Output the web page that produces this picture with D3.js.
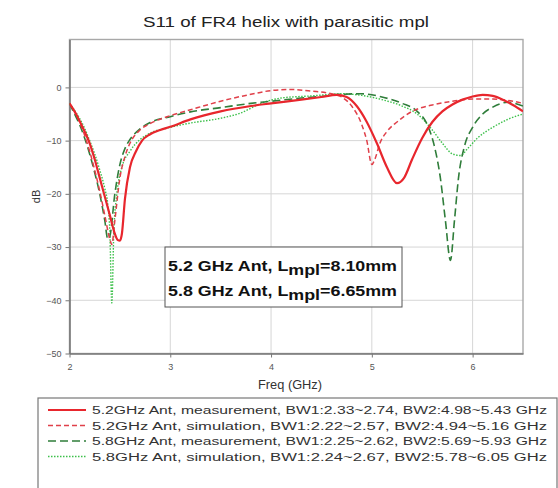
<!DOCTYPE html>
<html><head><meta charset="utf-8">
<script src="https://cdn.jsdelivr.net/npm/d3@7"></script>
<style>
html,body{margin:0;padding:0;background:#fff;}
svg{display:block;font-family:"Liberation Sans",Arial,sans-serif;}
</style></head>
<body><div id="chart"></div>
<script>
const title = "S11 of FR4 helix with parasitic mpl";
const xTicks = [2, 3, 4, 5, 6];
const yTicks = [0, -10, -20, -30, -40, -50];
const seriesNames = [
  "5.2GHz Ant, measurement, BW1:2.33~2.74, BW2:4.98~5.43 GHz",
  "5.2GHz Ant, simulation, BW1:2.22~2.57, BW2:4.94~5.16 GHz",
  "5.8GHz Ant, measurement, BW1:2.25~2.62, BW2:5.69~5.93 GHz",
  "5.8GHz Ant, simulation, BW1:2.24~2.67, BW2:5.78~6.05 GHz"
];
const m52 = [[2.00,-3],[2.05,-4.5],[2.10,-6.3],[2.15,-8.3],[2.20,-10.5],[2.25,-13.5],[2.30,-17],[2.35,-20.5],[2.40,-24],[2.45,-27.5],[2.48,-28.7],[2.50,-28.8],[2.52,-27.5],[2.55,-21],[2.60,-15],[2.66,-12],[2.72,-10],[2.80,-8.8],[2.90,-8],[3.00,-7.4],[3.20,-6],[3.50,-4.5],[3.80,-3.5],[4.00,-3],[4.30,-2.3],[4.50,-1.8],[4.65,-1.4],[4.75,-1.8],[4.85,-3.5],[4.95,-6.5],[5.05,-10.5],[5.15,-15],[5.25,-18],[5.32,-17],[5.40,-13.5],[5.50,-9.5],[5.60,-6.5],[5.70,-4.5],[5.80,-3.2],[5.90,-2.3],[6.00,-1.7],[6.10,-1.4],[6.20,-1.6],[6.30,-2.3],[6.40,-3.3],[6.50,-4.5]];
const s52 = [[2.00,-3],[2.05,-4.5],[2.10,-6.5],[2.15,-9],[2.20,-12],[2.25,-15.5],[2.30,-19.5],[2.35,-24],[2.40,-28.5],[2.42,-29.5],[2.45,-25],[2.50,-17],[2.55,-13],[2.60,-10.5],[2.70,-8],[2.80,-6.8],[3.00,-5.3],[3.20,-4.2],[3.50,-2.6],[3.80,-1.3],[4.00,-0.6],[4.20,-0.4],[4.40,-0.7],[4.60,-1.2],[4.70,-1.8],[4.80,-3.5],[4.90,-7],[4.95,-10],[5.00,-14.5],[5.03,-13.5],[5.08,-10.5],[5.15,-8.3],[5.25,-6.5],[5.40,-4.5],[5.60,-3.3],[5.80,-2.6],[6.00,-2.2],[6.20,-2.2],[6.40,-2.6],[6.50,-3]];
const m58 = [[2.00,-3],[2.05,-5],[2.10,-7],[2.15,-9.5],[2.20,-12.5],[2.25,-16],[2.30,-20],[2.35,-25],[2.38,-28.5],[2.40,-28],[2.45,-20],[2.50,-14.5],[2.55,-11.5],[2.60,-9.8],[2.70,-7.8],[2.80,-6.6],[3.00,-5.5],[3.20,-4.6],[3.50,-3.8],[3.80,-3],[4.00,-2.6],[4.30,-2],[4.50,-1.7],[4.70,-1.3],[4.90,-1.2],[5.10,-1.8],[5.30,-3],[5.45,-4.5],[5.55,-7],[5.62,-11],[5.68,-17],[5.73,-25],[5.78,-32.5],[5.82,-25],[5.86,-17],[5.92,-11],[6.00,-7.5],[6.10,-5],[6.20,-3.7],[6.35,-2.8],[6.50,-3.5]];
const s58 = [[2.00,-3],[2.05,-4.3],[2.10,-5.8],[2.15,-7.7],[2.20,-10],[2.25,-12.5],[2.30,-15.5],[2.35,-19],[2.38,-22],[2.40,-27],[2.42,-40.5],[2.44,-27],[2.47,-20],[2.52,-15],[2.60,-12],[2.70,-9.8],[2.80,-8.6],[3.00,-7.5],[3.20,-6.7],[3.50,-5.8],[3.70,-4.8],[3.90,-3],[4.10,-2],[4.40,-1.6],[4.70,-1.2],[4.90,-1.5],[5.10,-2.3],[5.30,-3.5],[5.45,-5],[5.60,-8],[5.70,-10.5],[5.80,-12.5],[5.88,-12.8],[5.95,-11.5],[6.05,-9.5],[6.20,-7.5],[6.35,-6],[6.50,-5]];

const series = [
  {name: seriesNames[0], data: m52, color: "#e8262d", width: 2.2, dash: null},
  {name: seriesNames[1], data: s52, color: "#e0404a", width: 1.5, dash: "5,3"},
  {name: seriesNames[2], data: m58, color: "#2f7d3a", width: 1.6, dash: "8,4"},
  {name: seriesNames[3], data: s58, color: "#3cc04a", width: 1.4, dash: "1.5,1.5"}
];

const W = 558, H = 488;
const svg = d3.select("#chart").append("svg").attr("width", W).attr("height", H);
const x = d3.scaleLinear().domain([2, 6.5]).range([69.5, 523]);
const y = d3.scaleLinear().domain([-50, 9]).range([353.5, 39.5]);

// title
svg.append("text").attr("x", 286).attr("y", 27).attr("text-anchor", "middle")
  .attr("font-size", 14).attr("fill", "#222")
  .attr("textLength", 286).attr("lengthAdjust", "spacingAndGlyphs").text(title);

// grid
const g = svg.append("g");
g.selectAll("line.vg").data(xTicks.slice(1)).join("line")
  .attr("x1", d => x(d)).attr("x2", d => x(d)).attr("y1", y(9)).attr("y2", y(-50))
  .attr("stroke", "#d6d6d6").attr("stroke-width", 1);
g.selectAll("line.hg").data(yTicks.slice(0, -1)).join("line")
  .attr("x1", x(2)).attr("x2", x(6.5)).attr("y1", d => y(d)).attr("y2", d => y(d))
  .attr("stroke", "#d6d6d6").attr("stroke-width", 1);
// frame
svg.append("rect").attr("x", x(2)).attr("y", y(9)).attr("width", x(6.5) - x(2)).attr("height", y(-50) - y(9))
  .attr("fill", "none").attr("stroke", "#a8a8a8").attr("stroke-width", 1.4);

// axes
const xAxis = svg.append("g").attr("transform", `translate(0,${y(-50)})`)
  .call(d3.axisBottom(x).tickValues(xTicks).tickFormat(d3.format("d")).tickSize(4).tickSizeOuter(0));
const yAxis = svg.append("g").attr("transform", `translate(${x(2)},0)`)
  .call(d3.axisLeft(y).tickValues(yTicks).tickFormat(d3.format("d")).tickSize(4).tickSizeOuter(0));
[xAxis, yAxis].forEach(a => {
  a.select(".domain").attr("stroke", "#777").attr("stroke-width", 1.6);
  a.selectAll(".tick line").attr("stroke", "#777");
  a.selectAll(".tick text").attr("font-size", 9).attr("fill", "#555")
    .attr("font-family", "Liberation Sans, Arial, sans-serif");
});
xAxis.selectAll(".tick text").attr("dy", "1.1em");
yAxis.selectAll(".tick text").attr("x", -8);

// axis labels
svg.append("text").attr("x", 290).attr("y", 389).attr("text-anchor", "middle")
  .attr("font-size", 12).attr("fill", "#333")
  .attr("textLength", 64).attr("lengthAdjust", "spacingAndGlyphs").text("Freq (GHz)");
svg.append("text").attr("transform", `translate(40,${(y(9) + y(-50)) / 2}) rotate(-90)`)
  .attr("text-anchor", "middle").attr("font-size", 11).attr("fill", "#333").text("dB");

// curves
const line = d3.line().x(d => x(d[0])).y(d => y(d[1])).curve(d3.curveMonotoneX);
svg.append("clipPath").attr("id", "clip").append("rect")
  .attr("x", x(2)).attr("y", y(9)).attr("width", x(6.5) - x(2)).attr("height", y(-50) - y(9));
const cg = svg.append("g").attr("clip-path", "url(#clip)");
series.slice().reverse().forEach(s => {
  cg.append("path").attr("d", line(s.data)).attr("fill", "none")
    .attr("stroke", s.color).attr("stroke-width", s.width)
    .attr("stroke-dasharray", s.dash).attr("stroke-linejoin", "round");
});

// annotation box
const ann = svg.append("g");
ann.append("rect").attr("x", 165).attr("y", 247).attr("width", 237).attr("height", 60)
  .attr("fill", "#fff").attr("stroke", "#555").attr("stroke-width", 1);
const annLines = [["5.2 GHz Ant, L", "mpl", "=8.10mm"], ["5.8 GHz Ant, L", "mpl", "=6.65mm"]];
annLines.forEach((t, i) => {
  const tx = ann.append("text").attr("x", 168).attr("y", 271 + i * 25)
    .attr("font-size", 14).attr("font-weight", "bold").attr("fill", "#111")
    .attr("textLength", 229).attr("lengthAdjust", "spacingAndGlyphs");
  tx.append("tspan").text(t[0]);
  tx.append("tspan").attr("dy", 4).text(t[1]);
  tx.append("tspan").attr("dy", -4).text(t[2]);
});

// legend
const lg = svg.append("g");
lg.append("rect").attr("x", 38).attr("y", 398).attr("width", 519).attr("height", 100)
  .attr("fill", "#fff").attr("stroke", "#777").attr("stroke-width", 1.2);
series.forEach((s, i) => {
  const yy = 410 + i * 15.5;
  lg.append("line").attr("x1", 48).attr("x2", 86).attr("y1", yy).attr("y2", yy)
    .attr("stroke", s.color).attr("stroke-width", s.width).attr("stroke-dasharray", s.dash);
  lg.append("text").attr("x", 92).attr("y", yy + 4).attr("font-size", 10).attr("fill", "#333")
    .attr("textLength", 455).attr("lengthAdjust", "spacingAndGlyphs").text(s.name);
});
</script></body></html>
